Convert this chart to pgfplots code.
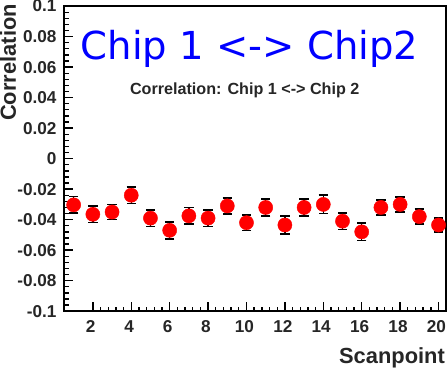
\documentclass[border=0pt]{standalone}
\usepackage{pgfplots}
\pgfplotsset{compat=1.18}
\usepackage{fontspec}
\setmainfont{Liberation Sans}
\newfontfamily\djv{DejaVu Sans}
\begin{document}
\begin{tikzpicture}
\begin{axis}[
  scale only axis, width=367bp, height=293bp,
  xmin=0.5, xmax=20.4, ymin=-0.1, ymax=0.1,
  axis line style={line width=1.5bp, black},
  tick align=inside, xtick pos=bottom, ytick pos=left,
  xtick={2,4,...,20}, xticklabels={2,4,6,8,10,12,14,16,18,20},
  ytick={-0.1,-0.08,-0.06,-0.04,-0.02,0,0.02,0.04,0.06,0.08,0.1},
  yticklabels={-0.1,-0.08,-0.06,-0.04,-0.02,0,0.02,0.04,0.06,0.08,0.1},
  minor x tick num=4, minor y tick num=4,
  major tick length=9bp, minor tick length=4.5bp,
  every tick/.append style={line width=1.3bp, black},
  ticklabel style={font=\bfseries\fontsize{16.5bp}{16.5bp}\selectfont, text=black!85},
  yticklabel style={anchor=east, inner sep=0pt, xshift=-7bp},
  xticklabel style={anchor=north, inner sep=0pt, yshift=-9bp, xshift=-2bp},
  title={Correlation: Chip 1 <-> Chip 2},
  title style={at={(rel axis cs:0.4728,0.6894)}, anchor=base, inner sep=0pt, font=\bfseries\fontsize{15.5bp}{15.5bp}\selectfont, text=black!85},
  xlabel={Scanpoint},
  xlabel style={at={(rel axis cs:0.997,-0.1706)}, anchor=base east, inner sep=0pt, font=\bfseries\fontsize{21bp}{21bp}\selectfont, text=black!85},
  ylabel={Correlation},
  ylabel style={at={(rel axis cs:-0.125,1.007)}, anchor=south east, inner sep=0pt, font=\bfseries\fontsize{21bp}{21bp}\selectfont, text=black!85},
]
\addplot[only marks, mark=*, mark size=6.8bp, red,
  error bars/.cd, y dir=both, y explicit,
  error bar style={black, line width=1.3bp},
  error mark options={black, line width=1.6bp, mark size=4.5bp, rotate=90}]
  coordinates {
  (1,-0.0303) +- (0,0.0055)
  (2,-0.0365) +- (0,0.0053)
  (3,-0.0350) +- (0,0.0050)
  (4,-0.0240) +- (0,0.0053)
  (5,-0.0390) +- (0,0.0055)
  (6,-0.0470) +- (0,0.0055)
  (7,-0.0375) +- (0,0.0055)
  (8,-0.0390) +- (0,0.0055)
  (9,-0.0310) +- (0,0.0052)
  (10,-0.0420) +- (0,0.0052)
  (11,-0.0320) +- (0,0.0055)
  (12,-0.0435) +- (0,0.0060)
  (13,-0.0320) +- (0,0.0055)
  (14,-0.0300) +- (0,0.0060)
  (15,-0.0410) +- (0,0.0055)
  (16,-0.0480) +- (0,0.0056)
  (17,-0.0320) +- (0,0.0050)
  (18,-0.0300) +- (0,0.0048)
  (19,-0.0380) +- (0,0.0050)
  (20,-0.0435) +- (0,0.0045)
  };
\node[anchor=base west, inner sep=0pt, font=\djv\fontsize{37bp}{37bp}\selectfont, text=blue] at (rel axis cs:0.0436,0.826) {Chip 1 <-> Chip2};
\end{axis}
\end{tikzpicture}
\end{document}
